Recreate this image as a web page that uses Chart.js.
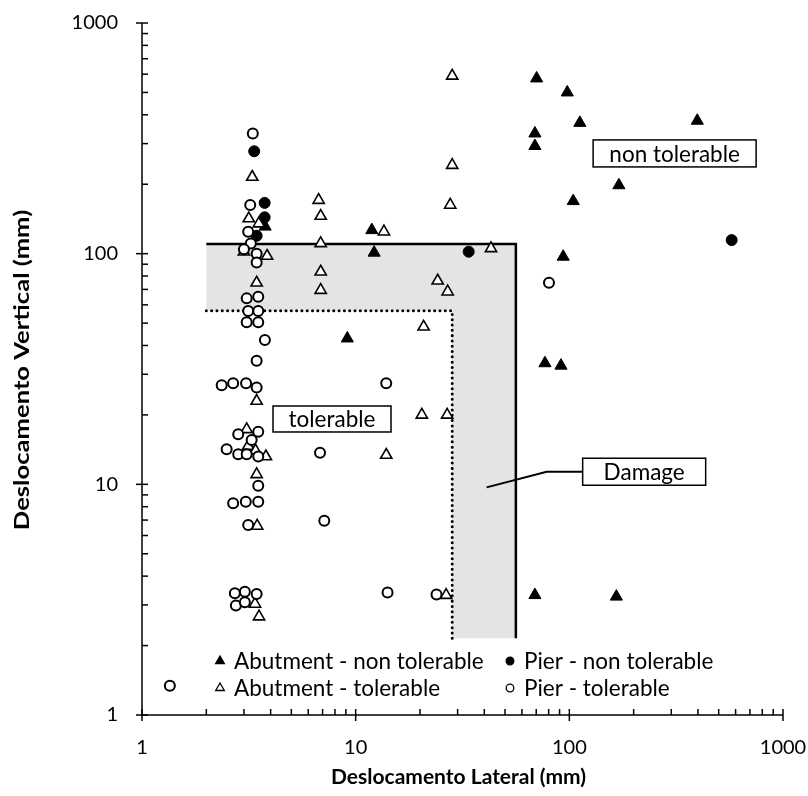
<!DOCTYPE html>
<html>
<head>
<meta charset="utf-8">
<title>Deslocamento Lateral vs Vertical</title>
<script src="https://cdn.jsdelivr.net/npm/chart.js@4.4.1/dist/chart.umd.min.js"></script>
<style>
  html, body { margin: 0; padding: 0; background: #fff; }
  canvas { display: block; }
</style>
</head>
<body>
<canvas id="chart" width="808" height="796"></canvas>
<script>
// Measured displacements [lateral mm, vertical mm]
const abutmentNonTolerable = [
  [3.77, 131], [11.9, 126.5], [12.2, 101], [9.14, 42.9], [70.3, 575], [97.8, 500],
  [112, 369], [69, 332], [69, 293], [104.3, 169], [170.6, 198], [397, 377],
  [93.6, 97], [76.9, 33.5], [91.4, 32.7], [69, 3.31], [166, 3.26]
];
const pierNonTolerable = [
  [3.35, 278], [3.75, 166], [3.75, 143.7], [3.44, 119.6], [33.8, 102], [575, 114.5]
];
const abutmentTolerable = [
  [3.28, 215], [3.16, 142], [3.52, 135], [3.0, 102], [3.85, 97.7], [3.44, 74.8],
  [6.71, 170.7], [6.86, 145.6], [6.86, 110.8], [6.86, 83.5], [6.86, 69.5], [13.56, 124.5],
  [28.3, 590], [28.3, 242], [27.7, 162.6], [43, 105.4], [24.2, 76.3], [26.95, 68.4],
  [20.8, 48.2], [20.4, 20.0], [26.8, 20.0], [13.9, 13.4], [3.44, 22.96], [3.09, 17.3],
  [3.14, 14.66], [3.4, 14.0], [3.80, 13.2], [3.44, 11.05], [3.46, 6.6], [3.38, 3.03],
  [3.53, 2.67], [26.5, 3.31]
];
const pierTolerable = [
  [1.35, 1.34], [3.30, 332], [3.21, 162.6], [3.14, 124.5], [3.23, 110.8], [3.0, 104.4],
  [3.44, 100], [3.44, 91.6], [3.09, 64], [3.5, 65], [3.14, 56.4], [3.5, 56.4],
  [3.09, 50.4], [3.5, 50.4], [3.76, 42.2], [3.44, 34.3], [2.36, 26.9], [2.67, 27.4],
  [3.07, 27.4], [3.44, 26.3], [13.9, 27.4], [3.5, 16.9], [2.82, 16.5], [3.26, 15.56],
  [2.49, 14.19], [2.82, 13.49], [3.09, 13.49], [3.5, 13.2], [6.81, 13.7], [3.5, 9.86],
  [2.67, 8.27], [3.06, 8.41], [3.5, 8.41], [7.13, 6.95], [3.14, 6.66], [2.72, 3.37],
  [3.03, 3.42], [3.44, 3.35], [2.75, 2.98], [3.03, 3.08], [14.1, 3.40], [23.9, 3.33],
  [80.3, 74.8]
];

// Limits: [lateral, vertical]
const damageLimit = [56.2, 110];
const tolerableLimit = [28.3, 56.6];
const zoneOrigin = [2, 2.15];

const tickValues = [1, 10, 100, 1000];

const toPoints = arr => arr.map(([x, y]) => ({ x, y }));

const damageLine = [
  { x: zoneOrigin[0], y: damageLimit[1] },
  { x: damageLimit[0], y: damageLimit[1] },
  { x: damageLimit[0], y: zoneOrigin[1] }
];
const tolerableLine = [
  { x: zoneOrigin[0], y: tolerableLimit[1] },
  { x: tolerableLimit[0], y: tolerableLimit[1] },
  { x: tolerableLimit[0], y: zoneOrigin[1] }
];

// Text boxes placed in data coordinates
const labels = [
  { text: 'non tolerable', x: 311, y: 272, w: 163, h: 27 },
  { text: 'tolerable', x: 7.75, y: 19.2, w: 118, h: 26 },
  { text: 'Damage', x: 224, y: 11.34, w: 123, h: 27 }
];
const damagePointer = [[41.0, 9.7], [78.3, 11.34], [115.4, 11.34]];

const legendItems = [
  { text: 'Abutment - non tolerable', style: 'triangle', filled: true },
  { text: 'Pier - non tolerable', style: 'circle', filled: true },
  { text: 'Abutment - tolerable', style: 'triangle', filled: false },
  { text: 'Pier - tolerable', style: 'circle', filled: false }
];

const xTitle = 'Deslocamento Lateral (mm)';
const yTitle = 'Deslocamento Vertical (mm)';

const FONT = 'Lato, "Open Sans", sans-serif';
const TEXT = '22.5px ' + FONT;

// Grey damage band behind everything
const damageZone = {
  id: 'damageZone',
  beforeDatasetsDraw(chart) {
    const { ctx, scales: { x, y } } = chart;
    const pts = [
      [zoneOrigin[0], damageLimit[1]], [damageLimit[0], damageLimit[1]],
      [damageLimit[0], zoneOrigin[1]], [tolerableLimit[0], zoneOrigin[1]],
      [tolerableLimit[0], tolerableLimit[1]], [zoneOrigin[0], tolerableLimit[1]]
    ];
    ctx.save();
    ctx.fillStyle = '#e4e4e4';
    ctx.beginPath();
    pts.forEach(([vx, vy], i) => {
      const px = x.getPixelForValue(vx), py = y.getPixelForValue(vy);
      i ? ctx.lineTo(px, py) : ctx.moveTo(px, py);
    });
    ctx.closePath();
    ctx.fill();
    ctx.restore();
  }
};

// Excel-style tick marks: majors cross the axis, minors point inside
const axisTicks = {
  id: 'axisTicks',
  afterDraw(chart) {
    const { ctx, chartArea: a, scales: { x, y } } = chart;
    ctx.save();
    ctx.strokeStyle = '#000';
    ctx.lineWidth = 1.5;
    tickValues.forEach((d, i) => {
      const ks = i < tickValues.length - 1 ? [1, 2, 3, 4, 5, 6, 7, 8, 9] : [1];
      ks.forEach(k => {
        const v = d * k;
        const major = k === 1;
        const px = x.getPixelForValue(v);
        ctx.beginPath();
        ctx.moveTo(px, a.bottom - 6);
        ctx.lineTo(px, a.bottom + (major ? 6 : 0));
        ctx.stroke();
        const py = y.getPixelForValue(v);
        ctx.beginPath();
        ctx.moveTo(a.left - (major ? 6 : 0), py);
        ctx.lineTo(a.left + 6, py);
        ctx.stroke();
      });
    });
    ctx.beginPath();
    ctx.moveTo(a.left, a.top);
    ctx.lineTo(a.left, a.bottom);
    ctx.lineTo(a.right, a.bottom);
    ctx.stroke();

    // axis titles
    ctx.fillStyle = '#000';
    ctx.font = 'bold 21px ' + FONT;
    ctx.textAlign = 'center';
    ctx.textBaseline = 'middle';
    ctx.fillText(xTitle, (a.left + a.right) / 2 - 4, 777);
    ctx.translate(22, (a.top + a.bottom) / 2 + 1);
    ctx.rotate(-Math.PI / 2);
    ctx.scale(1.22, 1);
    ctx.fillText(yTitle, 0, 0);
    ctx.restore();
  }
};

// Annotation boxes, pointer line and the in-plot legend
const annotations = {
  id: 'annotations',
  afterDraw(chart) {
    const { ctx, chartArea: a, scales: { x, y } } = chart;
    ctx.save();
    ctx.strokeStyle = '#000';
    ctx.lineWidth = 2;
    ctx.beginPath();
    damagePointer.forEach(([vx, vy], i) => {
      const px = x.getPixelForValue(vx), py = y.getPixelForValue(vy);
      i ? ctx.lineTo(px, py) : ctx.moveTo(px, py);
    });
    ctx.stroke();

    ctx.font = TEXT;
    ctx.textAlign = 'center';
    ctx.textBaseline = 'middle';
    labels.forEach(l => {
      const cx = x.getPixelForValue(l.x), cy = y.getPixelForValue(l.y);
      ctx.fillStyle = '#fff';
      ctx.fillRect(cx - l.w / 2, cy - l.h / 2, l.w, l.h);
      ctx.lineWidth = 1.5;
      ctx.strokeRect(cx - l.w / 2, cy - l.h / 2, l.w, l.h);
      ctx.fillStyle = '#000';
      ctx.fillText(l.text, cx, cy + 1);
    });

    // legend: two columns, two rows
    const colX = [a.left + 78, a.left + 368];
    const rowY = [a.bottom - 54, a.bottom - 27];
    ctx.textAlign = 'left';
    legendItems.forEach((it, i) => {
      const mx = colX[i % 2], my = rowY[Math.floor(i / 2)];
      ctx.fillStyle = it.filled ? '#000' : '#fff';
      ctx.strokeStyle = '#000';
      ctx.lineWidth = 1.3;
      Chart.helpers.drawPoint(ctx, {
        pointStyle: it.style,
        radius: it.style === 'triangle' ? 5 : 3.8,
        borderWidth: 1.3,
        rotation: 0
      }, mx, my);
      ctx.fillStyle = '#000';
      ctx.fillText(it.text, mx + 14, my + 1);
    });
    ctx.restore();
  }
};

// keep the plot box fixed: labels may overhang into the layout padding
const resetPadding = s => {
  s.paddingLeft = s.paddingRight = s.paddingTop = s.paddingBottom = 0;
};

const logAxis = extra => Object.assign({
  type: 'logarithmic',
  min: 1,
  max: 1000,
  grid: { display: false, drawTicks: false },
  border: { display: false },
  afterBuildTicks: s => { s.ticks = tickValues.map(v => ({ value: v })); },
  title: { display: false }
}, extra);

new Chart(document.getElementById('chart'), {
  type: 'scatter',
  data: {
    datasets: [
      {
        label: 'Abutment - non tolerable',
        data: toPoints(abutmentNonTolerable),
        pointStyle: 'triangle',
        pointRadius: 7,
        backgroundColor: '#000',
        borderColor: '#000',
        borderWidth: 1,
        order: 3
      },
      {
        label: 'Pier - non tolerable',
        data: toPoints(pierNonTolerable),
        pointStyle: 'circle',
        pointRadius: 5.5,
        backgroundColor: '#000',
        borderColor: '#000',
        borderWidth: 1,
        order: 2
      },
      {
        label: 'Abutment - tolerable',
        data: toPoints(abutmentTolerable),
        pointStyle: 'triangle',
        pointRadius: 6.5,
        backgroundColor: '#fff',
        borderColor: '#000',
        borderWidth: 1.6,
        order: 1
      },
      {
        label: 'Pier - tolerable',
        data: toPoints(pierTolerable),
        pointStyle: 'circle',
        pointRadius: 5,
        backgroundColor: '#fff',
        borderColor: '#000',
        borderWidth: 2,
        order: 0
      },
      {
        label: 'damage limit',
        data: damageLine,
        showLine: true,
        pointRadius: 0,
        borderColor: '#000',
        borderWidth: 2.5,
        fill: false,
        order: 4
      },
      {
        label: 'tolerable limit',
        data: tolerableLine,
        showLine: true,
        pointRadius: 0,
        borderColor: '#000',
        borderWidth: 3,
        borderDash: [0.01, 5.3],
        borderCapStyle: 'round',
        fill: false,
        order: 5
      }
    ]
  },
  options: {
    responsive: false,
    animation: false,
    layout: { padding: { top: 23, right: 25, left: 0, bottom: 0 } },
    plugins: {
      legend: { display: false },
      tooltip: { enabled: false }
    },
    scales: {
      x: logAxis({
        position: 'bottom',
        ticks: { color: '#000', padding: 21, font: { family: FONT, size: 20 }, callback: v => String(v) },
        afterFit: s => { s.height = 81; resetPadding(s); }
      }),
      y: logAxis({
        position: 'left',
        ticks: { color: '#000', padding: 24, font: { family: FONT, size: 20 }, callback: v => String(v) },
        afterFit: s => { s.width = 142; resetPadding(s); }
      })
    }
  },
  plugins: [damageZone, axisTicks, annotations]
});
</script>
</body>
</html>
